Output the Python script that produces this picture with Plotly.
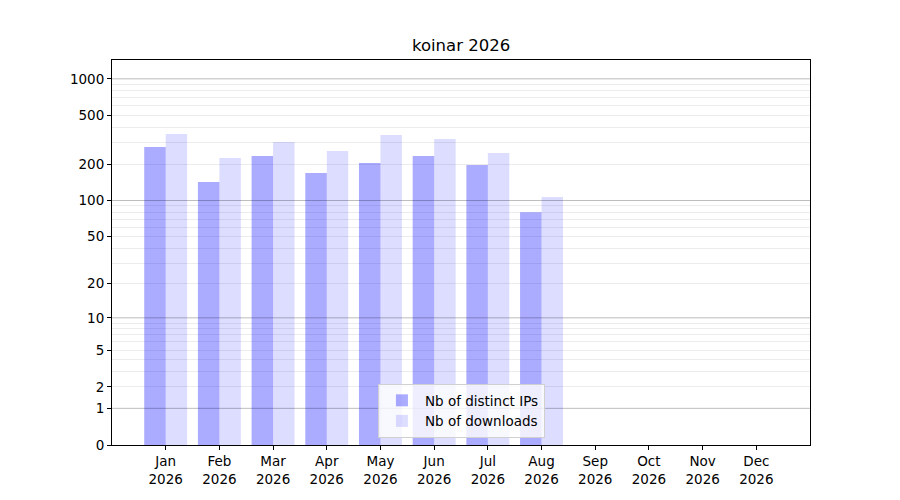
import numpy as np
import plotly.graph_objects as go

# monthly stats (Sep-Dec have no data yet)
months = ["Jan", "Feb", "Mar", "Apr", "May", "Jun", "Jul", "Aug", "Sep", "Oct", "Nov", "Dec"]
year = "2026"
distinct_ips = [276, 142, 233, 169, 204, 233, 196, 80, 0, 0, 0, 0]
downloads = [353, 224, 304, 256, 346, 321, 246, 107, 0, 0, 0, 0]

# y ticks of the log(1+x) scale
label_vals = [0, 1, 2, 5, 10, 20, 50, 100, 200, 500, 1000]
decade_vals = [1, 10, 100, 1000]
minor_vals = [3, 4, 6, 7, 8, 9, 30, 40, 60, 70, 80, 90, 300, 400, 600, 700, 800, 900]
y_top = 1430


def scale(v):
    return np.log10(1 + np.asarray(v, dtype=float))


x = np.arange(len(months))
font = "DejaVu Sans"

fig = go.Figure()
fig.add_trace(go.Bar(x=x, y=scale(distinct_ips), name="Nb of distinct IPs",
                     marker=dict(color="rgba(0,0,255,0.33)", line_width=0)))
fig.add_trace(go.Bar(x=x, y=scale(downloads), name="Nb of downloads",
                     marker=dict(color="rgba(0,0,255,0.135)", line_width=0)))

# darker grid lines on the decades, drawn over the bars like the original
for v in decade_vals:
    fig.add_hline(y=float(scale(v)), line=dict(color="rgba(0,0,0,0.2)", width=1), layer="above")

fig.update_layout(
    width=900, height=500,
    margin=dict(l=112, r=90, t=60, b=55),
    plot_bgcolor="white", paper_bgcolor="white",
    font=dict(family=font, size=13.5, color="black"),
    title=dict(text="koinar 2026", x=0.5123, xanchor="center", y=0.91, yanchor="middle",
               font=dict(size=16.5)),
    barmode="group", bargap=0.2, bargroupgap=0,
    showlegend=True,
    legend=dict(x=0.381, y=0.018, xanchor="left", yanchor="bottom",
                bgcolor="rgba(255,255,255,0.8)", bordercolor="#d0d0d0", borderwidth=1,
                font=dict(size=13.5), tracegroupgap=0, itemwidth=36),
    xaxis=dict(
        range=[-1, 12],
        tickmode="array", tickvals=list(x),
        ticktext=[f"{m}<br>{year}" for m in months],
        ticks="outside", ticklen=4, tickcolor="black",
        showline=True, linecolor="black", linewidth=1, mirror=True,
        showgrid=False, zeroline=False,
    ),
    yaxis=dict(
        range=[0, float(scale(y_top))],
        tickmode="array", tickvals=list(scale(label_vals)),
        ticktext=[str(v) for v in label_vals],
        ticks="outside", ticklen=4, tickcolor="black",
        showline=True, linecolor="black", linewidth=1, mirror=True,
        showgrid=True, gridcolor="#ececec", gridwidth=1, zeroline=False,
        minor=dict(tickmode="array", tickvals=list(scale(minor_vals)),
                   showgrid=True, gridcolor="#ececec", gridwidth=1, ticks=""),
    ),
)

fig.write_html("out.html", config={"displayModeBar": False},
               post_script="document.body.style.margin='0';")
